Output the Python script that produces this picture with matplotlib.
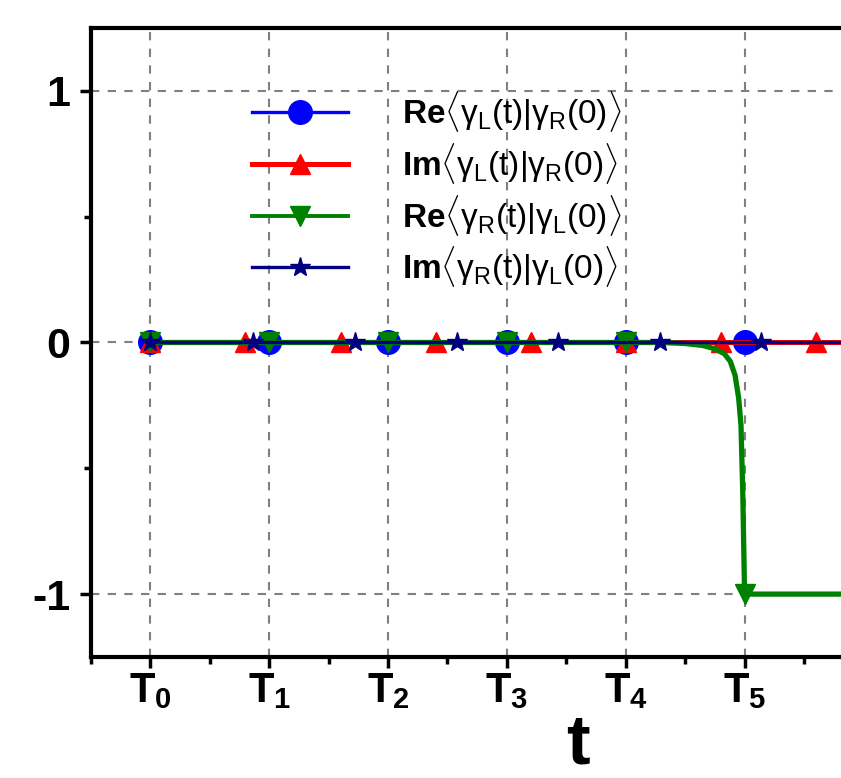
import matplotlib.pyplot as plt
from matplotlib.lines import Line2D

# values
blue_x = [0, 1, 2, 3, 4, 5, 6]
blue_y = [0, 0, 0, 0, 0, 0, 0]
red_x = [0, 0.8, 1.6, 2.4, 3.2, 4.0, 4.8, 5.6, 6.4]
red_y = [0, 0, 0, 0, 0, 0, 0, 0, 0]
star_x = [0, 0.86, 1.72, 2.58, 3.43, 4.29, 5.14, 6.0]
star_y = [0, 0, 0, 0, 0, 0, 0, 0]
green_x = [0, 1, 2, 3, 4, 4.3, 4.5, 4.65, 4.75, 4.83, 4.88, 4.92, 4.95, 4.97, 4.985, 5.0, 6.0, 7.0]
green_y = [0, 0, 0, 0, 0, 0, -0.004, -0.012, -0.025, -0.045, -0.075, -0.13, -0.22, -0.33, -0.6, -1.0, -1.0, -1.0]
green_marks = [0, 1, 2, 3, 4, 15, 16]

xticks = [0, 1, 2, 3, 4, 5]
xticklabels = [r'$\mathbf{T_%d}$' % i for i in range(6)]
yticks = [-1, 0, 1]
yticklabels = ['-1', '0', '1']

labels = [r'$\mathbf{Re}\langle\mathrm{\gamma_L(t)|\gamma_R(0)}\rangle$',
          r'$\mathbf{Im}\langle\mathrm{\gamma_L(t)|\gamma_R(0)}\rangle$',
          r'$\mathbf{Re}\langle\mathrm{\gamma_R(t)|\gamma_L(0)}\rangle$',
          r'$\mathbf{Im}\langle\mathrm{\gamma_R(t)|\gamma_L(0)}\rangle$']

plt.rcParams['font.family'] = ['Liberation Sans', 'DejaVu Sans']
plt.rcParams['mathtext.fontset'] = 'custom'
plt.rcParams['mathtext.rm'] = 'Liberation Sans'
plt.rcParams['mathtext.it'] = 'Liberation Sans:italic'
plt.rcParams['mathtext.bf'] = 'Liberation Sans:bold'

fig = plt.figure(figsize=(8.41, 7.78), dpi=100)
ax = fig.add_axes([91 / 841, 121 / 778, 833 / 841, 629 / 778])

ax.plot(blue_x, blue_y, color='#0000ff', lw=2.4, marker='o', ms=17, zorder=3)
ax.plot(red_x, red_y, color='#ff0000', lw=3.6, marker='^', ms=15, zorder=4)
ax.plot(green_x, green_y, color='#008000', lw=3.8, marker='v', ms=15,
        markevery=green_marks, zorder=5)
ax.plot(star_x, star_y, color='#000080', lw=2.4, marker='*', ms=15, zorder=6)

ax.set_xlim(-0.49, 6.51)
ax.set_ylim(-1.25, 1.25)
ax.set_xticks(xticks)
ax.set_xticklabels(xticklabels)
ax.set_xticks([-0.5, 0.5, 1.5, 2.5, 3.5, 4.5, 5.5, 6.5], minor=True)
ax.set_yticks(yticks)
ax.set_yticklabels(yticklabels, fontweight='bold')
ax.set_yticks([-0.5, 0.5], minor=True)
ax.tick_params(which='major', direction='out', length=8, width=2.5)
ax.tick_params(which='minor', direction='out', length=5, width=2.5)
ax.tick_params(axis='x', labelsize=30, pad=2)
ax.tick_params(axis='y', labelsize=31, pad=7)
for s in ax.spines.values():
    s.set_linewidth(3)
ax.grid(True, which='major', color='#808080', ls=(0, (4, 4)), lw=1.5)
ax.set_axisbelow(True)

ax.set_xlabel('t', fontsize=51, fontweight='bold')
ax.xaxis.label.set_va('baseline')
ax.xaxis.set_label_coords((578 - 91) / 833, -106 / 629)

handles = [
    Line2D([], [], color='#0000ff', lw=2.4, marker='o', ms=17),
    Line2D([], [], color='#ff0000', lw=3.6, marker='^', ms=15),
    Line2D([], [], color='#008000', lw=2.8, marker='v', ms=15),
    Line2D([], [], color='#000080', lw=2.4, marker='*', ms=15),
]
ax.legend(handles, labels, loc='upper left', bbox_to_anchor=(0.157, 0.95), frameon=False,
          fontsize=24, handlelength=2.9, handletextpad=1.6, labelspacing=0.2)

fig.savefig('out.png', dpi=100)
